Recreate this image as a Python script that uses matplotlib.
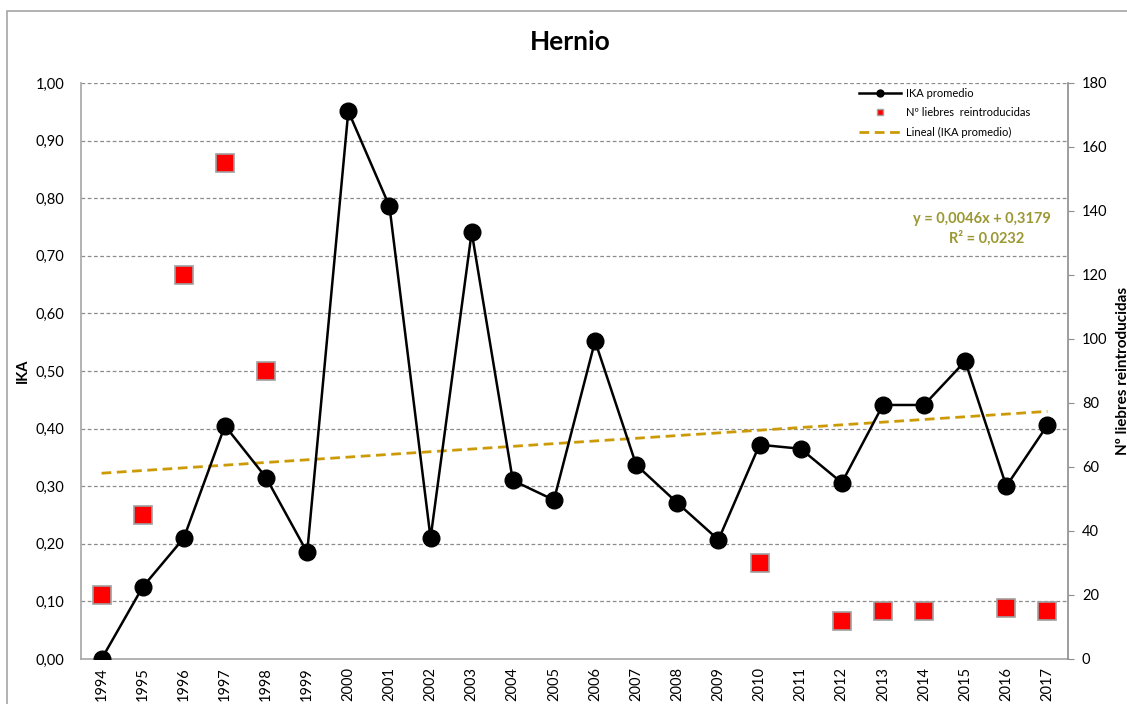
import numpy as np
import matplotlib
matplotlib.use("Agg")
import matplotlib.pyplot as plt
from matplotlib.patches import Rectangle
from matplotlib.lines import Line2D

plt.rcParams['font.family'] = ['Lato', 'DejaVu Sans']

years = [str(y) for y in range(1994, 2018)]
ika = [0.00, 0.125, 0.21, 0.405, 0.315, 0.185, 0.951, 0.786, 0.21, 0.741,
       0.31, 0.276, 0.552, 0.337, 0.271, 0.207, 0.372, 0.365, 0.306, 0.441,
       0.441, 0.517, 0.300, 0.406]
liebres = [20, 45, 120, 155, 90, None, None, None, None, None,
           None, None, None, None, None, None, 30, None, 12, 15,
           15, None, 16, 15]
left_ticks = [0.0, 0.1, 0.2, 0.3, 0.4, 0.5, 0.6, 0.7, 0.8, 0.9, 1.0]
right_ticks = [0, 20, 40, 60, 80, 100, 120, 140, 160, 180]

W, H = 1127, 704
fig = plt.figure(figsize=(W / 100, H / 100), dpi=100)
fig.patch.set_facecolor('white')

# outer chart frame (cropped on right/bottom)
fig.patches.append(Rectangle((7 / W, -0.1), 1.2, 1 - 11 / H + 0.1,
                             transform=fig.transFigure, fill=False,
                             edgecolor='#a6a6a6', linewidth=1.2))

ax = fig.add_axes([81 / W, 1 - 659 / H, (1068 - 81) / W, (659 - 83) / H])
x = np.arange(len(years))

ax.set_xlim(-0.5, len(years) - 0.5)
ax.set_ylim(0, 1.0)
ax.set_yticks(left_ticks)
ax.set_yticklabels([f"{v:.2f}".replace('.', ',') for v in left_ticks], fontsize=10.5)
ax.set_xticks(x)
ax.set_xticklabels(years, rotation=90, fontsize=10.5)
ax.tick_params(axis='y', length=0, pad=12)
ax.tick_params(axis='x', length=0, pad=6)
for yv in left_ticks:
    ax.axhline(yv, color='#8c8c8c', linestyle=(0, (3, 2)), linewidth=0.9, zorder=0)
for s in ['top', 'right']:
    ax.spines[s].set_visible(False)
for s in ['left', 'bottom']:
    ax.spines[s].set_color('#a6a6a6')
    ax.spines[s].set_linewidth(1.2)
fig.text(23 / W, 1 - 371 / H, 'IKA', rotation=90, fontsize=10.5,
         fontweight='bold', ha='center', va='center')

# trend line computed from data
coef = np.polyfit(x + 1, ika, 1)
trend = np.polyval(coef, x + 1)
ax.plot(x, trend, color='#cc9a06', linestyle=(0, (3.5, 2)), linewidth=2, zorder=2)

ax.plot(x, ika, color='black', linewidth=1.8, marker='o', markersize=12,
        zorder=4)

ax2 = ax.twinx()
ax2.set_ylim(0, 180)
ax2.set_yticks(right_ticks)
ax2.set_yticklabels([str(v) for v in right_ticks], fontsize=10.5)
ax2.tick_params(axis='y', length=4, color='#8c8c8c', pad=6)
for s in ['top', 'left', 'bottom']:
    ax2.spines[s].set_visible(False)
ax2.spines['right'].set_color('#8c8c8c')
ax2.spines['right'].set_linewidth(1.2)
lv = np.array([np.nan if v is None else v for v in liebres], dtype=float)
ax2.plot(x, lv, linestyle='none', marker='s', markersize=13,
         markerfacecolor='#ff0000', markeredgecolor='#a0a0a0',
         markeredgewidth=1.2, zorder=5)

fig.text(1116 / W, 1 - 371 / H, 'Nº liebres reintroducidas', rotation=90,
         fontsize=11, fontweight='bold', ha='left', va='center')

fig.text(0.506, 1 - 42 / H, 'Hernio', fontsize=19, fontweight='bold',
         ha='center', va='center')

# equation
ax.text(1051 / W, 1 - 219 / H, 'y = 0,0046x + 0,3179', transform=fig.transFigure,
        fontsize=10.5, fontweight='bold', color='#9b9833', ha='right', va='center')
ax.text(987 / W, 1 - 238 / H, 'R² = 0,0232', transform=fig.transFigure,
        fontsize=10.5, fontweight='bold', color='#9b9833', ha='center', va='center')

handles = [
    Line2D([], [], color='black', linewidth=1.8, marker='o', markersize=5),
    Line2D([], [], linestyle='none', marker='s', markersize=5,
           markerfacecolor='#ff0000', markeredgecolor='#a0a0a0'),
    Line2D([], [], color='#cc9a06', linestyle=(0, (3.5, 2)), linewidth=2),
]
labels = ['IKA promedio', 'Nº liebres  reintroducidas', 'Lineal (IKA promedio)']
fig.legend(handles, labels, loc='upper left', bbox_to_anchor=(859 / W, 1 - 88 / H),
           frameon=False, fontsize=8, handlelength=3.8, handletextpad=0.4,
           labelspacing=0.75, borderpad=0, borderaxespad=0)

fig.savefig('out.png', dpi=100)
